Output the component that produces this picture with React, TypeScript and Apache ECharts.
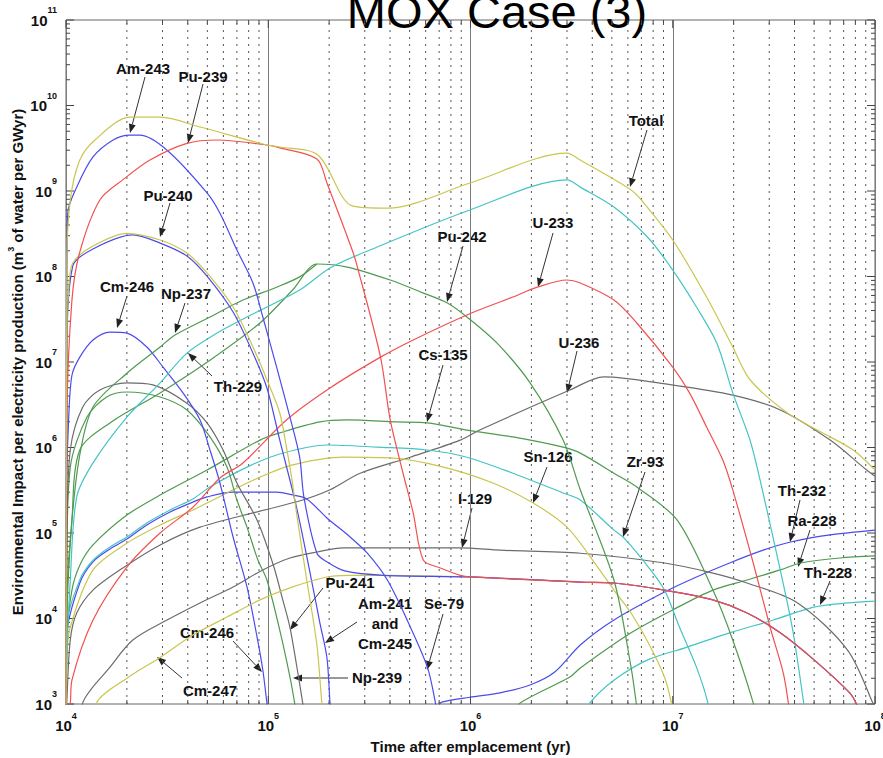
import React, { useEffect, useRef } from 'react';
import * as echarts from 'echarts';

const FONT = '"Liberation Sans", Arial, Helvetica, sans-serif';

const chartTitle = 'MOX Case (3)';
const xAxisTitle = 'Time after emplacement (yr)';
const yAxisTitle = 'Environmental Impact per electricity production (m{sup|3} of water per GWyr)';

const X_MIN = 1e4;
const X_MAX = 1e8;
const Y_MIN = 1e3;
const Y_MAX = 1e11;
const xDecades = [1e4, 1e5, 1e6, 1e7, 1e8];
const yDecades = [1e3, 1e4, 1e5, 1e6, 1e7, 1e8, 1e9, 1e10, 1e11];
const minorSteps = [2, 3, 4, 5, 6, 7, 8, 9];

type Pt = [number, number];

// shared late-time equilibrium tail (Cm-247 -> Am-243 -> Pu-239)
const equilibriumTail: Pt[] = [[3.49e6, 2.67e4], [5.12e6, 2.6e4], [9.1e6, 2.15e4], [1.58e7, 1.65e4], [2.33e7, 1.16e4], [3.4e7, 6.8e3], [4.98e7, 3.3e3], [7.5e7, 1.35e3], [8.1e7, 1.0e3], [8.3e7, 8e2]];

const total: Pt[] = [[1e4, 1e2], [1.01e4, 1.56e8], [1.05e4, 7.85e8], [1.17e4, 2.3e9], [1.39e4, 3.95e9], [2.07e4, 7.3e9], [2.92e4, 7.3e9], [4.6e4, 5.6e9], [9.85e4, 3.45e9], [1.14e5, 3.27e9], [1.76e5, 2.64e9], [2.6e5, 6.7e8], [3.92e5, 6.3e8], [9.93e5, 1.24e9], [3.0e6, 2.78e9], [3.49e6, 2.3e9], [6.22e6, 1.03e9], [6.99e6, 7.85e8], [1.0e7, 2.67e8], [1.47e7, 5.75e7], [1.98e7, 1.5e7], [2.41e7, 6.2e6], [3.69e7, 2.53e6], [5.4e7, 1.52e6], [7.8e7, 9.35e5], [1.0e8, 5.45e5]];
const am243: Pt[] = [[1e4, 1e2], [1.01e4, 5.3e7], [1.02e4, 5.5e8], [1.13e4, 1.11e9], [1.36e4, 2.5e9], [1.71e4, 3.95e9], [2.07e4, 4.5e9], [2.32e4, 4.5e9], [3.16e4, 3.0e9], [4.98e4, 9.5e8], [5.77e4, 5.5e8], [7.0e4, 2.04e8], [8.4e4, 8.4e7], [9.4e4, 3.36e7], [1.1e5, 8.7e6], [1.28e5, 2.27e6], [1.43e5, 7.7e5], [1.5e5, 2.64e5], [1.74e5, 5.8e4], [1.95e5, 4.6e4], [2.39e5, 3.6e4], [3.71e5, 3.2e4], [9.93e5, 3.06e4]];
const pu239: Pt[] = [[1e4, 1e2], [1.01e4, 2.1e6], [1.07e4, 5.3e7], [1.17e4, 1.93e8], [1.47e4, 7.85e8], [1.91e4, 1.35e9], [2.6e4, 2.3e9], [3.96e4, 3.6e9], [5.58e4, 3.95e9], [9.85e4, 3.45e9], [1.14e5, 3.2e9], [1.74e5, 2.37e9], [1.95e5, 1.24e9], [2.6e5, 2.04e8], [2.76e5, 1.29e8], [3.59e5, 1.14e7], [4.01e5, 2.1e6], [4.64e5, 5.0e5], [5.21e5, 1.71e5], [5.85e5, 4.8e4], [7.1e5, 3.9e4], [8.9e5, 3.2e4], [9.93e5, 3.06e4]];
const cm247: Pt[] = [[1.41e4, 8e2], [1.42e4, 1.03e3], [2.0e4, 2.0e3], [2.92e4, 3.5e3], [4.24e4, 6.4e3], [6.25e4, 1.04e4], [9.1e4, 1.65e4], [1.32e5, 2.34e4], [1.95e5, 3.06e4], [2.46e5, 3.2e4], [3.71e5, 3.2e4], [9.93e5, 3.06e4]];
const pu240: Pt[] = [[1e4, 1e2], [1.01e4, 1.38e7], [1.03e4, 6.95e7], [1.08e4, 1.44e8], [1.36e4, 2.27e8], [2.0e4, 3.2e8], [2.92e4, 2.67e8], [3.96e4, 1.88e8], [4.98e4, 1.1e8], [6.7e4, 4.4e7], [8.4e4, 1.5e7], [9.85e4, 6.2e6], [1.14e5, 2.53e6], [1.23e5, 1.01e6], [1.31e5, 4.2e5], [1.38e5, 1.71e5], [1.55e5, 2.82e4], [1.74e5, 4.9e3], [1.84e5, 1.03e3], [1.86e5, 8.5e2]];
const am241cm245: Pt[] = [[1e4, 1e2], [1.01e4, 1.05e7], [1.08e4, 1.33e8], [1.36e4, 2.1e8], [2.14e4, 3.06e8], [2.92e4, 2.46e8], [3.96e4, 1.74e8], [4.98e4, 1.01e8], [6.7e4, 3.84e7], [8.4e4, 1.27e7], [9.85e4, 4.97e6], [1.14e5, 1.22e6], [1.38e5, 2.0e5], [1.61e5, 3.4e4], [1.8e5, 8.9e3], [1.95e5, 3.5e3], [2.02e5, 1.03e3], [2.04e5, 8e2]];
const cm246: Pt[] = [[1e4, 1e2], [1.01e4, 4.2e5], [1.03e4, 2.1e6], [1.07e4, 7.0e6], [1.17e4, 1.14e7], [1.36e4, 1.81e7], [1.65e4, 2.24e7], [2.0e4, 2.18e7], [2.51e4, 1.5e7], [3.02e4, 8.7e6], [3.79e4, 4.35e6], [4.6e4, 2.1e6], [5.15e4, 9.35e5], [5.77e4, 3.84e5], [6.7e4, 8.98e4], [7.85e4, 2.34e4], [8.8e4, 6.1e3], [9.4e4, 2.5e3], [9.85e4, 1.03e3], [1.0e5, 8e2]];
const pu241: Pt[] = [[1e4, 1e2], [1.01e4, 8.3e4], [1.05e4, 9.35e5], [1.21e4, 2.98e6], [1.47e4, 4.7e6], [2.0e4, 5.7e6], [2.69e4, 5.4e6], [3.96e4, 3.3e6], [4.98e4, 1.94e6], [5.98e4, 9.35e5], [7.0e4, 3.84e5], [8.8e4, 1.42e5], [1.06e5, 4.2e4], [1.18e5, 1.65e4], [1.28e5, 7.9e3], [1.38e5, 2.86e3], [1.48e5, 1.03e3], [1.5e5, 8e2]];
const np239: Pt[] = [[1e4, 1e2], [1.01e4, 4.8e4], [1.05e4, 5.9e5], [1.27e4, 2.27e6], [1.59e4, 3.9e6], [2.0e4, 4.46e6], [2.92e4, 3.9e6], [3.96e4, 2.75e6], [5.15e4, 1.33e6], [6.25e4, 5.9e5], [7.0e4, 2.43e5], [7.85e4, 1.17e5], [8.9e4, 4.8e4], [9.85e4, 2.82e4], [1.14e5, 7.3e3], [1.28e5, 2.07e3], [1.35e5, 1.03e3], [1.37e5, 8e2]];
const np237: Pt[] = [[1e4, 1e2], [1.01e4, 1.65e4], [1.07e4, 1.42e5], [1.17e4, 8.2e5], [1.36e4, 2.98e6], [2.0e4, 7.4e6], [2.92e4, 1.5e7], [3.46e4, 2.07e7], [5.15e4, 3.36e7], [7.5e4, 5.3e7], [1.1e5, 7.5e7], [1.43e5, 9.9e7], [1.74e5, 1.4e8]];
const pu242: Pt[] = [[1e4, 1e2], [1.01e4, 9.6e3], [1.07e4, 1.42e5], [1.17e4, 9.35e5], [1.65e4, 1.94e6], [2.92e4, 4.35e6], [5.15e4, 1.05e7], [9.1e4, 2.86e7], [1.32e5, 6.95e7], [1.74e5, 1.4e8], [2.46e5, 1.29e8], [4.01e5, 9.1e7], [5.85e5, 6.4e7], [7.69e5, 4.9e7], [9.6e5, 3.36e7], [1.35e6, 1.67e7], [1.97e6, 5.7e6], [2.87e6, 1.22e6], [3.49e6, 3.2e5], [5.12e6, 2.82e4], [6.22e6, 2.7e3], [6.6e6, 1.03e3], [6.7e6, 8e2]];
const th229: Pt[] = [[1e4, 1e2], [1.01e4, 3.3e3], [1.05e4, 2.82e4], [1.13e4, 2.64e5], [1.36e4, 6.6e5], [2.0e4, 2.27e6], [2.92e4, 5.7e6], [3.96e4, 1.27e7], [5.58e4, 2.18e7], [7.85e4, 3.36e7], [1.43e5, 6.95e7], [2.02e5, 1.26e8], [3.18e5, 2.04e8], [9.93e5, 6.0e8], [3.0e6, 1.35e9], [3.49e6, 1.11e9], [5.12e6, 6.5e8], [7.57e6, 2.82e8], [1.0e7, 1.19e8], [1.31e7, 4.4e7], [1.65e7, 1.67e7], [1.98e7, 4.35e6], [2.41e7, 1.22e6], [2.7e7, 4.2e5], [3.4e7, 3.7e4], [3.92e7, 7.3e3], [4.44e7, 1.03e3], [4.5e7, 8e2]];
const u233: Pt[] = [[1.02e4, 8e2], [1.05e4, 1.03e3], [1.07e4, 1.9e3], [1.36e4, 9.6e3], [2.0e4, 4.0e4], [2.92e4, 1.0e5], [4.24e4, 2.0e5], [5.77e4, 4.4e5], [7.5e4, 6.6e5], [1.23e5, 2.1e6], [2.02e5, 4.97e6], [3.59e5, 1.14e7], [5.21e5, 1.81e7], [9.6e5, 3.55e7], [1.62e6, 5.75e7], [2.14e6, 7.5e7], [3.0e6, 9.1e7], [3.49e6, 8.4e7], [5.12e6, 5.3e7], [6.64e6, 2.86e7], [1.0e7, 8.7e6], [1.21e7, 4.35e6], [1.47e7, 1.74e6], [1.77e7, 7.1e5], [1.98e7, 3.2e5], [2.5e7, 4.46e4], [3.03e7, 7.9e3], [3.52e7, 2.3e3], [3.73e7, 1.03e3], [3.77e7, 8e2]];
const u236: Pt[] = [[1e4, 5e2], [1.01e4, 1.1e3], [1.05e4, 5.6e3], [1.13e4, 1.16e4], [1.36e4, 2.15e4], [1.91e4, 3.9e4], [2.92e4, 7.25e4], [4.6e4, 1.17e5], [9.1e4, 1.8e5], [1.48e5, 2.43e5], [2.02e5, 3.2e5], [2.85e5, 5.0e5], [5.03e5, 7.7e5], [8.9e5, 1.22e6], [1.11e6, 1.6e6], [3.1e6, 4.7e6], [4.56e6, 6.7e6], [9.85e6, 5.4e6], [1.98e7, 4.1e6], [3.4e7, 2.75e6], [6.0e7, 1.22e6], [9.1e7, 5.45e5], [1.0e8, 4.6e5]];
const i129: Pt[] = [[1.2e4, 8e2], [1.21e4, 1.03e3], [1.65e4, 2.7e3], [2.14e4, 5.6e3], [3.16e4, 9.6e3], [4.6e4, 1.52e4], [6.7e4, 2.34e4], [9.4e4, 3.7e4], [1.28e5, 5.1e4], [1.74e5, 6.0e4], [2.35e5, 6.7e4], [8.9e5, 6.7e4], [1.4e6, 6.3e4], [3.49e6, 5.8e4], [9.1e6, 4.46e4], [1.58e7, 3.4e4], [2.33e7, 2.6e4], [4.14e7, 1.52e4], [7.3e7, 4.3e3], [9.75e7, 1.03e3], [1.0e8, 8e2]];
const cs135: Pt[] = [[1e4, 1e2], [1.01e4, 6.1e3], [1.07e4, 2.15e4], [1.17e4, 4.2e4], [1.36e4, 7.25e4], [2.0e4, 1.62e5], [2.92e4, 2.78e5], [4.98e4, 5.45e5], [9.1e4, 1.22e6], [1.14e5, 1.48e6], [1.8e5, 1.99e6], [2.46e5, 2.1e6], [4.34e5, 1.99e6], [6.12e5, 1.94e6], [9.6e5, 1.6e6], [1.62e6, 1.33e6], [2.87e6, 1.01e6], [3.49e6, 8.6e5], [5.12e6, 5.0e5], [6.64e6, 3.45e5], [1.05e7, 1.42e5], [1.58e7, 2.15e4], [1.98e7, 5.6e3], [2.5e7, 1.03e3], [2.53e7, 8e2]];
const zr93: Pt[] = [[1e4, 1e2], [1.01e4, 8.4e3], [1.17e4, 2.82e4], [1.36e4, 4.8e4], [1.65e4, 6.86e4], [2.0e4, 8.98e4], [2.51e4, 1.31e5], [3.27e4, 1.86e5], [4.24e4, 2.5e5], [5.15e4, 3.45e5], [7.85e4, 5.9e5], [1.14e5, 8.4e5], [1.95e5, 1.07e6], [3.47e5, 1.01e6], [6.12e5, 9.35e5], [9.6e5, 7.7e5], [1.62e6, 5.0e5], [2.87e6, 2.94e5], [3.49e6, 2.43e5], [5.12e6, 1.08e5], [5.75e6, 8.7e4], [7.57e6, 4.0e4], [9.1e6, 2.15e4], [1.08e7, 7.9e3], [1.31e7, 2.7e3], [1.49e7, 1.03e3], [1.5e7, 8e2]];
const sn126: Pt[] = [[1e4, 1e2], [1.01e4, 3.3e3], [1.05e4, 7.9e3], [1.36e4, 3.7e4], [2.0e4, 7.6e4], [2.92e4, 1.24e5], [4.24e4, 1.86e5], [6.25e4, 2.94e5], [9.1e4, 4.5e5], [1.32e5, 6.25e5], [2.35e5, 7.7e5], [4.15e5, 7.5e5], [7.35e5, 5.9e5], [1.29e6, 3.84e5], [2.04e6, 2.24e5], [3.0e6, 1.17e5], [4.25e6, 4.0e4], [5.12e6, 2.15e4], [6.22e6, 1.16e4], [7.57e6, 5.2e3], [9.1e6, 2.07e3], [9.85e6, 1.03e3], [9.95e6, 8e2]];
const se79: Pt[] = [[1e4, 1e2], [1.01e4, 6.4e3], [1.17e4, 2.6e4], [1.36e4, 4.6e4], [1.65e4, 6.5e4], [2.0e4, 8.5e4], [2.51e4, 1.24e5], [3.27e4, 1.76e5], [4.24e4, 2.3e5], [4.98e4, 2.64e5], [6.7e4, 3.0e5], [1.1e5, 3.0e5], [1.32e5, 2.78e5], [1.55e5, 2.5e5], [1.95e5, 1.5e5], [2.54e5, 8.98e4], [3.09e5, 5.8e4], [3.88e5, 2.82e4], [4.86e5, 9.6e3], [6.12e5, 2.7e3], [6.71e5, 1.03e3], [6.8e5, 8e2]];
const th232: Pt[] = [[6.9e5, 9e2], [7.2e5, 1.05e3], [9.93e5, 1.2e3], [1.4e6, 1.35e3], [1.97e6, 1.67e3], [2.61e6, 2.37e3], [3.49e6, 4.9e3], [5.12e6, 9.6e3], [9.1e6, 2.04e4], [1.31e7, 3.06e4], [1.91e7, 4.46e4], [2.8e7, 6.3e4], [3.82e7, 7.85e4], [6.0e7, 9.5e4], [1.0e8, 1.08e5]];
const ra228: Pt[] = [[1.67e6, 8e2], [1.76e6, 1.03e3], [3.1e6, 2.07e3], [3.49e6, 2.64e3], [6.22e6, 6.8e3], [1.0e7, 1.26e4], [1.58e7, 2.15e4], [2.33e7, 2.82e4], [3.4e7, 3.7e4], [4.29e7, 4.46e4], [6.7e7, 5.1e4], [1.0e8, 5.4e4]];
const th228: Pt[] = [[3.8e6, 8e2], [3.89e6, 1.03e3], [5.12e6, 1.9e3], [7.57e6, 3.3e3], [1.17e7, 4.6e3], [1.91e7, 6.8e3], [3.14e7, 9.6e3], [4.98e7, 1.36e4], [7.3e7, 1.52e4], [1.0e8, 1.6e4]];

const C = {
  yellow: '#c9c64e',
  blue: '#4b4bec',
  red: '#f25050',
  cyan: '#44c4c4',
  green: '#4f9a4f',
  gray: '#6c6c6c',
};

const curves: { name: string; color: string; data: Pt[] }[] = [
  { name: 'Th-228', color: C.cyan, data: th228 },
  { name: 'Ra-228', color: C.green, data: ra228 },
  { name: 'Th-232', color: C.blue, data: th232 },
  { name: 'I-129', color: C.gray, data: i129 },
  { name: 'U-236', color: C.gray, data: u236 },
  { name: 'Se-79', color: C.blue, data: se79 },
  { name: 'Sn-126', color: C.yellow, data: sn126 },
  { name: 'Zr-93', color: C.cyan, data: zr93 },
  { name: 'Cs-135', color: C.green, data: cs135 },
  { name: 'Np-239', color: C.green, data: np239 },
  { name: 'Pu-241', color: C.gray, data: pu241 },
  { name: 'Cm-246', color: C.blue, data: cm246 },
  { name: 'Np-237', color: C.green, data: np237 },
  { name: 'Pu-242', color: C.green, data: pu242 },
  { name: 'Th-229', color: C.cyan, data: th229 },
  { name: 'U-233', color: C.red, data: u233 },
  { name: 'Am-241 and Cm-245', color: C.blue, data: am241cm245 },
  { name: 'Pu-240', color: C.yellow, data: pu240 },
  { name: 'Cm-247', color: C.yellow, data: cm247.concat(equilibriumTail) },
  { name: 'Am-243', color: C.blue, data: am243.concat(equilibriumTail) },
  { name: 'Pu-239', color: C.red, data: pu239.concat(equilibriumTail) },
  { name: 'Total', color: C.yellow, data: total },
];

// annotation layout (label centre, arrow tail, arrow tip) in page pixels
const annotations: { text: string; at: Pt; from: Pt; to: Pt }[] = [
  { text: 'Am-243', at: [143, 68], from: [145, 77], to: [130, 133] },
  { text: 'Pu-239', at: [203, 76], from: [203, 84], to: [188, 143] },
  { text: 'Pu-240', at: [168, 195], from: [170, 203], to: [160, 237] },
  { text: 'Total', at: [646, 120], from: [647, 130], to: [630, 187] },
  { text: 'Pu-242', at: [462, 236], from: [463, 246], to: [447, 302] },
  { text: 'U-233', at: [553, 222], from: [553, 233], to: [538, 287] },
  { text: 'Cm-246', at: [127, 286], from: [127, 296], to: [117, 328] },
  { text: 'Np-237', at: [186, 293], from: [185, 303], to: [175, 333] },
  { text: 'Th-229', at: [238, 386], from: [212, 376], to: [188, 353] },
  { text: 'Cs-135', at: [443, 354], from: [443, 365], to: [427, 422] },
  { text: 'U-236', at: [579, 342], from: [577, 351], to: [567, 393] },
  { text: 'Sn-126', at: [548, 456], from: [547, 467], to: [533, 503] },
  { text: 'Zr-93', at: [645, 461], from: [645, 472], to: [623, 537] },
  { text: 'I-129', at: [475, 498], from: [472, 508], to: [462, 548] },
  { text: 'Th-232', at: [802, 490], from: [800, 500], to: [790, 542] },
  { text: 'Ra-228', at: [812, 520], from: [810, 530], to: [798, 567] },
  { text: 'Th-228', at: [828, 572], from: [830, 581], to: [820, 605] },
  { text: 'Pu-241', at: [350, 582], from: [323, 588], to: [290, 630] },
  { text: 'Am-241\nand\nCm-245', at: [385, 623], from: [357, 622], to: [325, 643] },
  { text: 'Se-79', at: [444, 603], from: [443, 614], to: [427, 670] },
  { text: 'Np-239', at: [377, 677], from: [348, 678], to: [293, 678] },
  { text: 'Cm-246', at: [207, 632], from: [233, 641], to: [262, 672] },
  { text: 'Cm-247', at: [210, 690], from: [182, 678], to: [157, 657] },
];

function arrowEls(from: Pt, to: Pt) {
  const dx = to[0] - from[0];
  const dy = to[1] - from[1];
  const len = Math.hypot(dx, dy) || 1;
  const ux = dx / len;
  const uy = dy / len;
  const hl = 9;
  const hw = 3.5;
  const bx = to[0] - ux * hl;
  const by = to[1] - uy * hl;
  return [
    { type: 'line', silent: true, shape: { x1: from[0], y1: from[1], x2: bx, y2: by }, style: { stroke: '#333', lineWidth: 1 } },
    { type: 'polygon', silent: true, shape: { points: [[to[0], to[1]], [bx - uy * hw, by + ux * hw], [bx + uy * hw, by - ux * hw]] }, style: { fill: '#222' } },
  ];
}

const expLabel = (v: number) => `{b|10}{s|${Math.round(Math.log10(v))}}`;
const tickRich = {
  b: { fontSize: 15, fontWeight: 'bold', fontFamily: FONT, color: '#111', lineHeight: 29 },
  s: { fontSize: 9, fontWeight: 'bold', fontFamily: FONT, color: '#111', lineHeight: 10, verticalAlign: 'top' },
};

export default function App() {
  const ref = useRef<HTMLDivElement>(null);
  useEffect(() => {
    if (!ref.current) return;
    const chart = echarts.init(ref.current, null, { renderer: 'svg' });

    const xMinor: number[] = [];
    xDecades.slice(0, -1).forEach((d) => minorSteps.forEach((m) => xMinor.push(d * m)));
    const yMinor: number[] = [];
    yDecades.slice(0, -1).forEach((d) => minorSteps.forEach((m) => yMinor.push(d * m)));

    const xTickSeries = {
      type: 'custom',
      silent: true,
      clip: false,
      z: 1,
      data: [...xMinor.map((v) => [v, Y_MIN, 0]), ...xDecades.map((v) => [v, Y_MIN, 1])],
      renderItem: (_p: any, api: any) => {
        const v = api.value(0);
        const major = api.value(2) === 1;
        const b = api.coord([v, Y_MIN]);
        const t = api.coord([v, Y_MAX]);
        const L = major ? 8 : 4;
        const children: any[] = [
          { type: 'line', shape: { x1: b[0], y1: b[1], x2: b[0], y2: b[1] - L }, style: { stroke: '#444', lineWidth: 1 } },
          { type: 'line', shape: { x1: t[0], y1: t[1], x2: t[0], y2: t[1] + L }, style: { stroke: '#444', lineWidth: 1 } },
        ];
        if (!major) {
          children.push({ type: 'line', shape: { x1: b[0], y1: b[1], x2: t[0], y2: t[1] }, style: { stroke: '#555', lineWidth: 1, lineDash: [2, 5] } });
        }
        return { type: 'group', children };
      },
    };
    const yTickSeries = {
      type: 'custom',
      silent: true,
      clip: false,
      z: 1,
      data: [...yMinor.map((v) => [X_MIN, v, 0]), ...yDecades.map((v) => [X_MIN, v, 1])],
      renderItem: (_p: any, api: any) => {
        const v = api.value(1);
        const major = api.value(2) === 1;
        const l = api.coord([X_MIN, v]);
        const r = api.coord([X_MAX, v]);
        const L = major ? 8 : 4;
        return {
          type: 'group',
          children: [
            { type: 'line', shape: { x1: l[0], y1: l[1], x2: l[0] + L, y2: l[1] }, style: { stroke: '#444', lineWidth: 1 } },
            { type: 'line', shape: { x1: r[0], y1: r[1], x2: r[0] - L, y2: r[1] }, style: { stroke: '#444', lineWidth: 1 } },
          ],
        };
      },
    };

    const graphic: any[] = [
      {
        type: 'text',
        silent: true,
        x: 497,
        y: 11,
        style: { text: chartTitle, font: `47px ${FONT}`, fill: '#000', textAlign: 'center', textVerticalAlign: 'middle', align: 'center', verticalAlign: 'middle' },
      },
    ];
    annotations.forEach((a) => {
      graphic.push(...arrowEls(a.from, a.to));
      graphic.push({
        type: 'text',
        silent: true,
        x: a.at[0],
        y: a.at[1],
        style: { text: a.text, font: `bold 15px ${FONT}`, fill: '#111', lineHeight: 20, textAlign: 'center', textVerticalAlign: 'middle', align: 'center', verticalAlign: 'middle' },
      });
    });

    const option: any = {
      animation: false,
      backgroundColor: '#fff',
      grid: { left: 66, top: 20, width: 809, height: 684, show: true, borderColor: '#666', borderWidth: 1, backgroundColor: 'transparent', containLabel: false, outerBoundsMode: 'none' },
      xAxis: {
        type: 'log',
        logBase: 10,
        min: X_MIN,
        max: X_MAX,
        splitNumber: 4,
        name: xAxisTitle,
        nameLocation: 'middle',
        nameGap: 35,
        nameMoveOverlap: false,
        nameTextStyle: { fontSize: 15, fontWeight: 'bold', fontFamily: FONT, color: '#111' },
        axisLine: { show: false },
        axisTick: { show: false },
        axisLabel: { formatter: expLabel, rich: tickRich, margin: 7, showMinLabel: true, showMaxLabel: true, hideOverlap: false },
        splitLine: { show: true, lineStyle: { color: '#7c7c7c', width: 1 } },
      },
      yAxis: {
        type: 'log',
        logBase: 10,
        min: Y_MIN,
        max: Y_MAX,
        splitNumber: 8,
        name: yAxisTitle,
        nameLocation: 'middle',
        nameRotate: 90,
        nameGap: 38,
        nameMoveOverlap: false,
        nameTextStyle: {
          fontSize: 15,
          fontWeight: 'bold',
          fontFamily: FONT,
          color: '#111',
          lineHeight: 22,
          rich: { sup: { fontSize: 9, fontWeight: 'bold', fontFamily: FONT, color: '#111', lineHeight: 9, verticalAlign: 'top' } },
        },
        axisLine: { show: false },
        axisTick: { show: false },
        axisLabel: { formatter: expLabel, rich: tickRich, margin: 9, showMinLabel: true, showMaxLabel: true, hideOverlap: false },
        splitLine: { show: false },
      },
      series: [
        xTickSeries,
        yTickSeries,
        ...curves.map((c) => ({
          type: 'line',
          name: c.name,
          data: c.data,
          showSymbol: false,
          symbol: 'none',
          smooth: 0.3,
          clip: true,
          silent: true,
          z: 3,
          lineStyle: { color: c.color, width: 1.2 },
          itemStyle: { color: c.color },
          emphasis: { disabled: true },
        })),
      ],
      graphic,
    };
    chart.setOption(option);
    return () => chart.dispose();
  }, []);
  return <div ref={ref} style={{ position: 'fixed', left: 0, top: 0, width: 883, height: 758, background: '#fff' }} />;
}
